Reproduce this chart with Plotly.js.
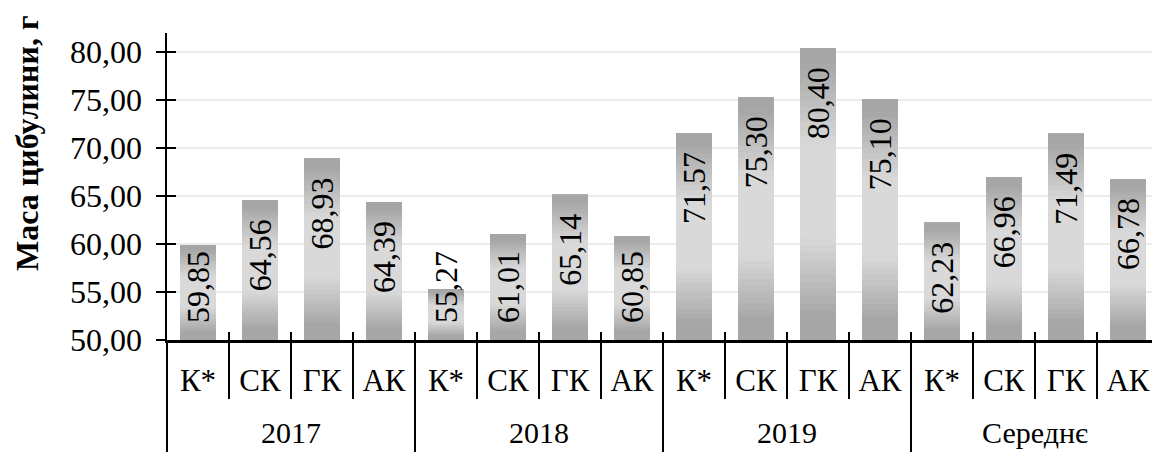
<!DOCTYPE html>
<html>
<head>
<meta charset="utf-8">
<script src="https://cdn.plot.ly/plotly-3.0.1.min.js"></script>
<style>
html, body { margin: 0; padding: 0; overflow: hidden; background: #ffffff; }
#chart { width: 1160px; height: 452px; }
</style>
</head>
<body>
<div id="chart"></div>
<script>
// ---------- data ----------
const years = ['2017', '2018', '2019', 'Середнє'];
const treatments = ['К*', 'СК', 'ГК', 'АК'];
const mass2017 = [59.85, 64.56, 68.93, 64.39];
const mass2018 = [55.27, 61.01, 65.14, 60.85];
const mass2019 = [71.57, 75.30, 80.40, 75.10];
const massMean = [62.23, 66.96, 71.49, 66.78];
const yTickVals = [50, 55, 60, 65, 70, 75, 80];
const yAxisTitle = 'Маса цибулини, г';

// ---------- build ----------
const seriesByYear = [mass2017, mass2018, mass2019, massMean];
const groupLabels = [], catLabels = [], values = [];
years.forEach((yr, gi) => {
  treatments.forEach((tr, ci) => {
    groupLabels.push(yr);
    catLabels.push(tr);
    values.push(seriesByYear[gi][ci]);
  });
});
const nCats = values.length;
const nPer = treatments.length;
const yMin = 50, yMax = 82;

const W = 1160, H = 452;
const M = { l: 167, r: 1, t: 33, b: 112 };
const plotH = H - M.t - M.b;
const pxPerUnit = plotH / (yMax - yMin);
const serif = 'Liberation Serif';

const dark = [166, 166, 166], light = [217, 217, 217];
function lerp(a, b, f) { return a.map((v, k) => Math.round(v + (b[k] - v) * f)); }
function colorAt(t) { // t: 0 bottom .. 1 top
  const s = 1 - t;
  let f;
  if (s < 0.05) f = 0;
  else if (s < 0.33) f = (s - 0.05) / 0.28;
  else if (s < 0.65) f = 1;
  else if (s < 0.92) f = 1 - (s - 0.65) / 0.27;
  else f = 0;
  return 'rgb(' + lerp(dark, light, f).join(',') + ')';
}

const traces = [];
const N = 40;
for (let i = 0; i < N; i++) {
  traces.push({
    type: 'bar',
    x: [groupLabels, catLabels],
    base: values.map(v => yMin + (v - yMin) * i / N),
    y: values.map(v => (v - yMin) * (1 - i / N)),
    marker: { color: colorAt((i + 0.5) / N), line: { width: 0 } },
    hoverinfo: 'skip',
    showlegend: false
  });
}
// empty helper traces for overlay axes
['x2', 'x3', 'x4', 'x5', 'x6'].forEach(ax => {
  traces.push({ type: 'scatter', x: [], y: [], xaxis: ax, yaxis: 'y', showlegend: false, hoverinfo: 'skip' });
});
traces.push({ type: 'scatter', x: [], y: [], xaxis: 'x', yaxis: 'y2', showlegend: false, hoverinfo: 'skip' });

const fmt = v => v.toFixed(2).replace('.', ',');
const labelFont = { family: serif, size: 32, color: '#000' };
const textLen = 75;
const annotations = values.map((v, i) => {
  const hPx = (v - yMin) * pxPerUnit;
  const fitsTop = hPx >= textLen + 17 + 15;
  return {
    x: i, y: fitsTop ? v : yMin, xref: 'x', yref: 'y',
    text: fmt(v), showarrow: false, textangle: -90,
    xanchor: 'center', yanchor: fitsTop ? 'top' : 'bottom',
    yshift: fitsTop ? -17 : 15,
    font: labelFont
  };
});
annotations.push({
  xref: 'paper', yref: 'paper',
  x: (27 - M.l) / (W - M.l - M.r), y: (H - M.b - 144) / plotH,
  text: yAxisTitle, showarrow: false, textangle: -90,
  xanchor: 'center', yanchor: 'middle',
  font: { family: serif, size: 32, color: '#000', weight: 'bold' }
});

// tick positions derived from category indexes
const xRange = [-0.5, nCats - 0.5];
const allBounds = [];
for (let i = 0; i < nCats - 1; i++) allBounds.push(i + 0.5);
const groupBounds = [];
for (let g = 0; g <= years.length; g++) groupBounds.push(g * nPer - 0.5);
const subBounds = allBounds.filter(b => !groupBounds.includes(b));
const catCenters = catLabels.map((_, i) => i);
const groupCenters = years.map((_, g) => g * nPer + (nPer - 1) / 2);

function overlayX(extra) {
  return Object.assign({
    overlaying: 'x', anchor: 'y', side: 'bottom', range: xRange,
    tickmode: 'array', showgrid: false, zeroline: false, showline: false,
    showticklabels: false, fixedrange: true
  }, extra);
}

const layout = {
  width: W, height: H,
  margin: M,
  paper_bgcolor: '#fff', plot_bgcolor: '#fff',
  separators: ', ',
  barmode: 'overlay',
  bargap: 0.42,
  showlegend: false,
  font: { family: serif, color: '#000' },
  xaxis: {
    type: 'multicategory',
    range: xRange,
    showline: true, linecolor: '#000', linewidth: 2.5,
    ticks: '', showgrid: false, showdividers: false,
    showticklabels: false,
    fixedrange: true
  },
  xaxis2: overlayX({ tickvals: allBounds, ticks: 'inside', ticklen: 8, tickwidth: 2.5, tickcolor: '#000' }),
  xaxis3: overlayX({ tickvals: subBounds, ticks: 'outside', ticklen: 58, tickwidth: 2.5, tickcolor: '#000' }),
  xaxis4: overlayX({ tickvals: groupBounds, ticks: 'outside', ticklen: 115, tickwidth: 2.5, tickcolor: '#000' }),
  xaxis5: overlayX({ tickvals: catCenters, ticktext: catLabels, ticks: '', showticklabels: true,
    tickfont: { family: serif, size: 31, color: '#000' }, ticklabelstandoff: 19 }),
  xaxis6: overlayX({ tickvals: groupCenters, ticktext: years, ticks: '', showticklabels: true,
    tickfont: { family: serif, size: 30, color: '#000' }, ticklabelstandoff: 72 }),
  yaxis: {
    range: [yMin, yMax],
    tickmode: 'array', tickvals: yTickVals,
    tickformat: '.2f',
    showline: true, linecolor: '#000', linewidth: 2.5,
    ticks: 'outside', ticklen: 9, tickwidth: 2, tickcolor: '#000',
    showgrid: true, gridcolor: '#ececec', gridwidth: 2,
    zeroline: false,
    tickfont: { family: serif, size: 32, color: '#000' },
    ticklabelstandoff: 7,
    fixedrange: true
  },
  yaxis2: {
    overlaying: 'y', anchor: 'x', side: 'left',
    range: [yMin, yMax],
    tickmode: 'array', tickvals: yTickVals,
    ticks: 'inside', ticklen: 9, tickwidth: 2, tickcolor: '#000',
    showticklabels: false, showgrid: false, zeroline: false, showline: false,
    fixedrange: true
  },
  annotations: annotations
};

Plotly.newPlot('chart', traces, layout, { staticPlot: true, displayModeBar: false });
</script>
</body>
</html>
